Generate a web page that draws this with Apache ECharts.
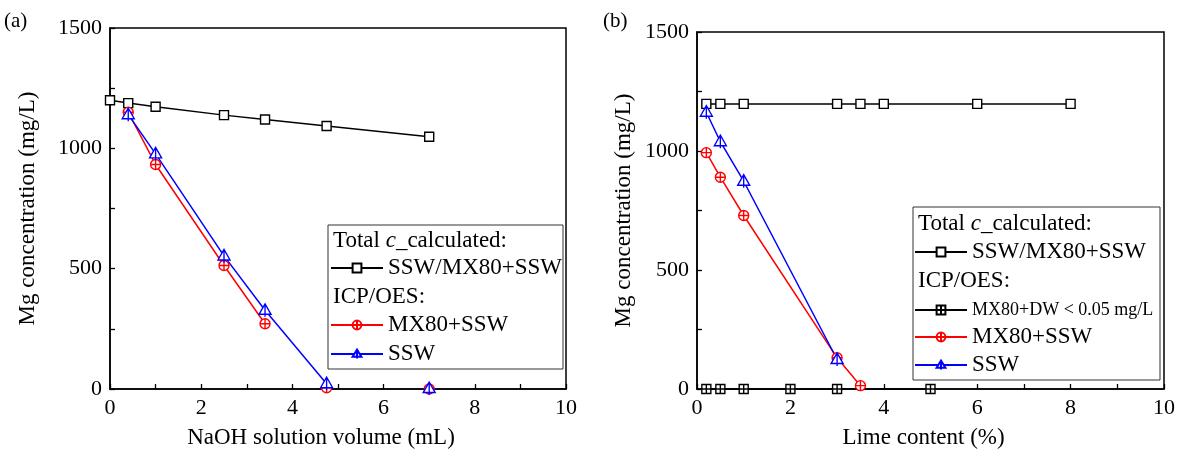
<!DOCTYPE html>
<html><head><meta charset="utf-8">
<script src="https://cdn.jsdelivr.net/npm/echarts@6/dist/echarts.min.js"></script>
<style>html,body{margin:0;padding:0;background:#fff}#c{width:1182px;height:454px}</style>
</head><body><div id="c"></div>
<script>
// ---- Data: panel (a) NaOH solution volume ----
const naohVolume = [0, 0.4, 1.0, 2.5, 3.4, 4.75, 7.0];
const naohTotalCalc = [1200, 1188, 1173, 1138, 1120, 1093, 1048];
const naohIcpX = [0.4, 1.0, 2.5, 3.4, 4.75, 7.0];
const naohMX80SSW = [1150, 933, 513, 271, 5, 0];
const naohSSW = [1140, 977, 553, 327, 22, 2];
const naohMX80SSWJoined = 4;   // number of points joined by the line
const naohSSWJoined = 5;

// ---- Data: panel (b) Lime content ----
const limeTotalX = [0.2, 0.5, 1, 3, 3.5, 4, 6, 8];
const limeTotalCalc = [1198, 1198, 1198, 1198, 1198, 1198, 1198, 1198];
const limeDWX = [0.2, 0.5, 1, 2, 3, 5];
const limeMX80DW = [0, 0, 0, 0, 0, 0];
const limeIcpX = [0.2, 0.5, 1, 3, 3.5];
const limeMX80SSW = [993, 890, 729, 131, 14];
const limeSSW = [1163, 1039, 873, 124];

const xTicksMin = 0, xTicksMax = 10, yMin = 0, yMax = 1500;

const FONT = "'Liberation Serif','Times New Roman',serif";
const SQ = 'path://M0,0H20V20H0Z';
const SQX = 'path://M0,0H20V20H0Z M10,0V20 M0,10H20';
const CIRX = 'path://M0,10A10,10,0,1,1,20,10A10,10,0,1,1,0,10Z M10,0V20 M0,10H20';
const TRIX = 'path://M10,0L20,17H0Z M10,0V21';

function pairs(xs, ys) { return xs.map((x, i) => [x, ys[i]]); }

function ser(name, gi, data, color, symbol, size, showLine) {
  return {
    type: 'line', name, xAxisIndex: gi, yAxisIndex: gi, data,
    symbol, symbolSize: size, showSymbol: true, clip: false,
    lineStyle: { color, width: showLine ? 1.5 : 0, opacity: showLine ? 1 : 0 },
    itemStyle: { color: '#fff', borderColor: color, borderWidth: 1.4 },
    emphasis: { disabled: true }, z: 3
  };
}

function xAxis(gi, name, padR) {
  return {
    type: 'value', gridIndex: gi, min: xTicksMin, max: xTicksMax, interval: 1,
    axisLine: { show: true, onZero: false, lineStyle: { color: '#000', width: 1.5 } },
    axisTick: { show: true, inside: true, length: 5, lineStyle: { color: '#000', width: 1.3 } },
    axisLabel: { margin: 8, fontSize: 22, fontFamily: FONT, color: '#000',
      formatter: v => (v % 2 === 0 ? String(v) : '') },
    splitLine: { show: false },
    name, nameLocation: 'middle', nameGap: 37,
    nameTextStyle: { fontSize: 23, fontFamily: FONT, color: '#000', padding: [0, padR, 0, 0] }
  };
}
function yAxis(gi, gap) {
  return {
    type: 'value', gridIndex: gi, min: yMin, max: yMax, interval: 250,
    axisLine: { show: true, onZero: false, lineStyle: { color: '#000', width: 1.5 } },
    axisTick: { show: true, inside: true, length: 5, lineStyle: { color: '#000', width: 1.3 } },
    axisLabel: { margin: 8, fontSize: 22, fontFamily: FONT, color: '#000',
      formatter: v => (v % 500 === 0 ? String(v) : '') },
    splitLine: { show: false },
    name: 'Mg concentration (mg/L)', nameLocation: 'middle', nameGap: gap,
    nameTextStyle: { fontSize: 23, fontFamily: FONT, color: '#000', padding: [10, 0, 0, 0] }
  };
}

function legendItem(name, left, centerY, fs) {
  return {
    data: [name], left, top: centerY - 12, orient: 'vertical', padding: 0,
    itemWidth: 52, itemHeight: 11, itemGap: 0, selectedMode: false,
    textStyle: { fontSize: fs || 23, fontFamily: FONT, color: '#000', lineHeight: 24 }
  };
}

function headerText(x, y, text) {
  return {
    type: 'text', x, y, z: 10,
    style: { text, fontSize: 23, fontFamily: FONT, fill: '#000', verticalAlign: 'middle',
      rich: { i: { fontStyle: 'italic', fontSize: 23, fontFamily: FONT, fill: '#000' } } }
  };
}

const mxLeft = pairs(naohIcpX, naohMX80SSW);
const sswLeft = pairs(naohIcpX, naohSSW);

const option = {
  backgroundColor: '#fff',
  animation: false,
  grid: [
    { left: 110, right: 616, top: 28, bottom: 65, show: true, borderColor: '#000', borderWidth: 1.5, containLabel: false },
    { left: 697, right: 18, top: 32, bottom: 61, show: true, borderColor: '#000', borderWidth: 1.5, containLabel: false }
  ],
  xAxis: [xAxis(0, 'NaOH solution volume (mL)', 34), xAxis(1, 'Lime content (%)', 14)],
  yAxis: [yAxis(0, 71), yAxis(1, 62)],
  legend: [
    legendItem('SSW/MX80+SSW', 330, 268),
    legendItem('MX80+SSW', 330, 325),
    legendItem('SSW', 330, 354),
    legendItem('SSW/MX80+SSW', 914, 252),
    legendItem('MX80+DW < 0.05 mg/L', 914, 310, 18),
    legendItem('MX80+SSW', 914, 337),
    legendItem('SSW', 914, 365)
  ],
  graphic: [
    { type: 'rect', shape: { x: 328, y: 225, width: 235, height: 144 }, style: { fill: 'none', stroke: '#333', lineWidth: 1 }, z: 10 },
    { type: 'rect', shape: { x: 913, y: 207, width: 247, height: 173 }, style: { fill: 'none', stroke: '#333', lineWidth: 1 }, z: 10 },
    headerText(333, 241, 'Total {i|c}_calculated:'),
    headerText(333, 297, 'ICP/OES:'),
    headerText(918, 224, 'Total {i|c}_calculated:'),
    headerText(918, 281, 'ICP/OES:'),
    { type: 'text', x: 4, y: 21, style: { text: '(a)', fontSize: 21, fontFamily: FONT, fill: '#000', verticalAlign: 'middle' } },
    { type: 'text', x: 603, y: 21, style: { text: '(b)', fontSize: 21, fontFamily: FONT, fill: '#000', verticalAlign: 'middle' } }
  ],
  series: [
    ser('SSW/MX80+SSW', 0, pairs(naohVolume, naohTotalCalc), '#000', SQ, 9, true),
    ser('MX80+SSW', 0, mxLeft.slice(0, naohMX80SSWJoined), '#ff0000', CIRX, 10, true),
    ser('MX80+SSW', 0, mxLeft.slice(naohMX80SSWJoined), '#ff0000', CIRX, 10, false),
    ser('SSW', 0, sswLeft.slice(0, naohSSWJoined), '#0000ff', TRIX, [12, 13], true),
    ser('SSW', 0, sswLeft.slice(naohSSWJoined), '#0000ff', TRIX, [12, 13], false),

    ser('SSW/MX80+SSW', 1, pairs(limeTotalX, limeTotalCalc), '#000', SQ, 9, true),
    ser('MX80+DW < 0.05 mg/L', 1, pairs(limeDWX, limeMX80DW), '#000', SQX, 9, true),
    ser('MX80+SSW', 1, pairs(limeIcpX, limeMX80SSW), '#ff0000', CIRX, 10, true),
    ser('SSW', 1, pairs(limeIcpX.slice(0, limeSSW.length), limeSSW), '#0000ff', TRIX, [12, 13], true)
  ]
};

const chart = echarts.init(document.getElementById('c'), null, { renderer: 'canvas' });
chart.setOption(option);
</script>
</body></html>
